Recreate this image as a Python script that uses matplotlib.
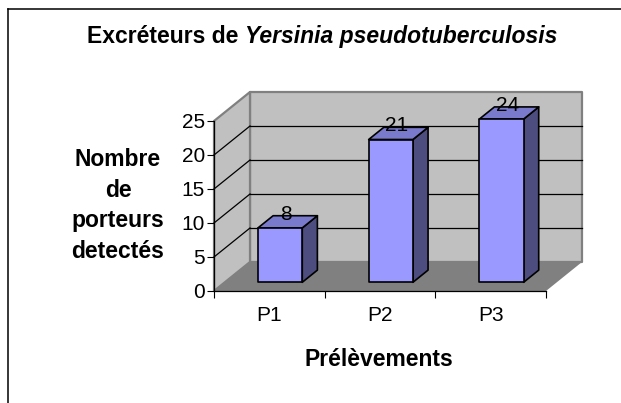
import matplotlib
matplotlib.use('Agg')
import matplotlib.pyplot as plt
from matplotlib.patches import Polygon

plt.rcParams['font.family'] = ['Liberation Sans', 'DejaVu Sans']

categories = ['P1', 'P2', 'P3']
values = [8, 21, 24]
yticks = [0, 5, 10, 15, 20, 25]
ylabel_lines = ['Nombre', 'de', 'porteurs', 'detectés']

W, H = 621, 403
fig = plt.figure(figsize=(W / 100, H / 100), dpi=100)

# outer frame, only left and top show in the original
fig.add_artist(plt.Line2D([8 / W, 8 / W], [0, 1 - 9 / H], color='black', lw=1.1))
fig.add_artist(plt.Line2D([8 / W, 1], [1 - 9 / H, 1 - 9 / H], color='black', lw=1.1))

# axes = front plane of the 3d box
ax = fig.add_axes([214 / W, 1 - 291 / H, 332 / W, 170 / H])
ax.set_xlim(0, 3)
ax.set_ylim(0, 25)
ax.patch.set_visible(False)
for s in ['top', 'right']:
    ax.spines[s].set_visible(False)

# depth of the box, in data units
DX = 36 / (332 / 3)
DY = 29 / (170 / 25)


def shift(x, y, d):
    return (x + d * DX, y + d * DY)


def face(pts, color, edge='none', lw=0, z=1):
    ax.add_patch(Polygon(pts, closed=True, facecolor=color, edgecolor=edge,
                         lw=lw, zorder=z, clip_on=False, joinstyle='round'))


# walls and floor
wall_edge = '#808080'
face([shift(0, 0, 1), shift(3, 0, 1), shift(3, 25, 1), shift(0, 25, 1)], '#C0C0C0', wall_edge, 1.6)
face([(0, 0), shift(0, 0, 1), shift(0, 25, 1), (0, 25)], '#C0C0C0', wall_edge, 1.6)
face([(0, 0), (3, 0), shift(3, 0, 1), shift(0, 0, 1)], '#808080')

# grid lines
for v in yticks[1:-1]:
    p = shift(0, v, 1)
    q = shift(3, v, 1)
    ax.plot([0, p[0]], [v, p[1]], color='black', lw=0.9, zorder=2, clip_on=False)
    ax.plot([p[0], q[0]], [p[1], q[1]], color='black', lw=0.9, zorder=2, clip_on=False)

# bars
bar_w = 0.4
d0, d1 = 0.3, 0.72
for i, v in enumerate(values):
    x0 = i + 0.5 - bar_w / 2
    x1 = x0 + bar_w
    a = shift(x0, 0, d0)
    b = shift(x1, 0, d0)
    top = v
    front = [a, b, (b[0], b[1] + top), (a[0], a[1] + top)]
    c = shift(x1, 0, d1)
    e = shift(x0, 0, d1)
    side = [b, c, (c[0], c[1] + top), (b[0], b[1] + top)]
    roof = [(a[0], a[1] + top), (b[0], b[1] + top), (c[0], c[1] + top), (e[0], e[1] + top)]
    face(side, '#4D4D80', 'black', 1.2, 3)
    face(roof, '#7A7ACC', 'black', 1.2, 3)
    face(front, '#9999FF', 'black', 1.2, 3)
    ax.annotate(str(v), xy=((a[0] + b[0]) / 2, a[1] + top), xytext=(4.5, 10),
                textcoords='offset points', ha='center', va='center',
                fontsize=15, color='black', zorder=5, annotation_clip=False)

# ticks
ax.set_yticks(yticks)
ax.set_xticks([0, 1, 2, 3])
ax.set_xticklabels([])
ax.set_xticks([0.5, 1.5, 2.5], minor=True)
ax.set_xticklabels(categories, minor=True)
ax.tick_params(axis='x', which='minor', length=0, labelsize=15, pad=11)
ax.tick_params(axis='x', which='major', length=5, width=0.8, direction='out')
ax.tick_params(axis='y', length=5, width=0.8, labelsize=15, pad=1.5)
for s in ['left', 'bottom']:
    ax.spines[s].set_zorder(4)
    ax.spines[s].set_linewidth(0.9)

# titles
t1 = fig.text(87 / W, 1 - 43 / H, 'Excréteurs de ', fontsize=16.5, fontweight='bold')
ax.annotate('Yersinia pseudotuberculosis', xy=(1, 0), xycoords=t1, fontsize=16.5,
            fontweight='bold', fontstyle='italic', va='bottom', annotation_clip=False)
for txt, py in zip(ylabel_lines, [159, 191, 221, 251]):
    fig.text(118 / W, 1 - py / H, txt, fontsize=16.5, fontweight='bold', ha='center', va='center')
fig.text(379 / W, 1 - 360 / H, 'Prélèvements', fontsize=16.5, fontweight='bold', ha='center', va='center')

fig.savefig('out.png', dpi=100)
